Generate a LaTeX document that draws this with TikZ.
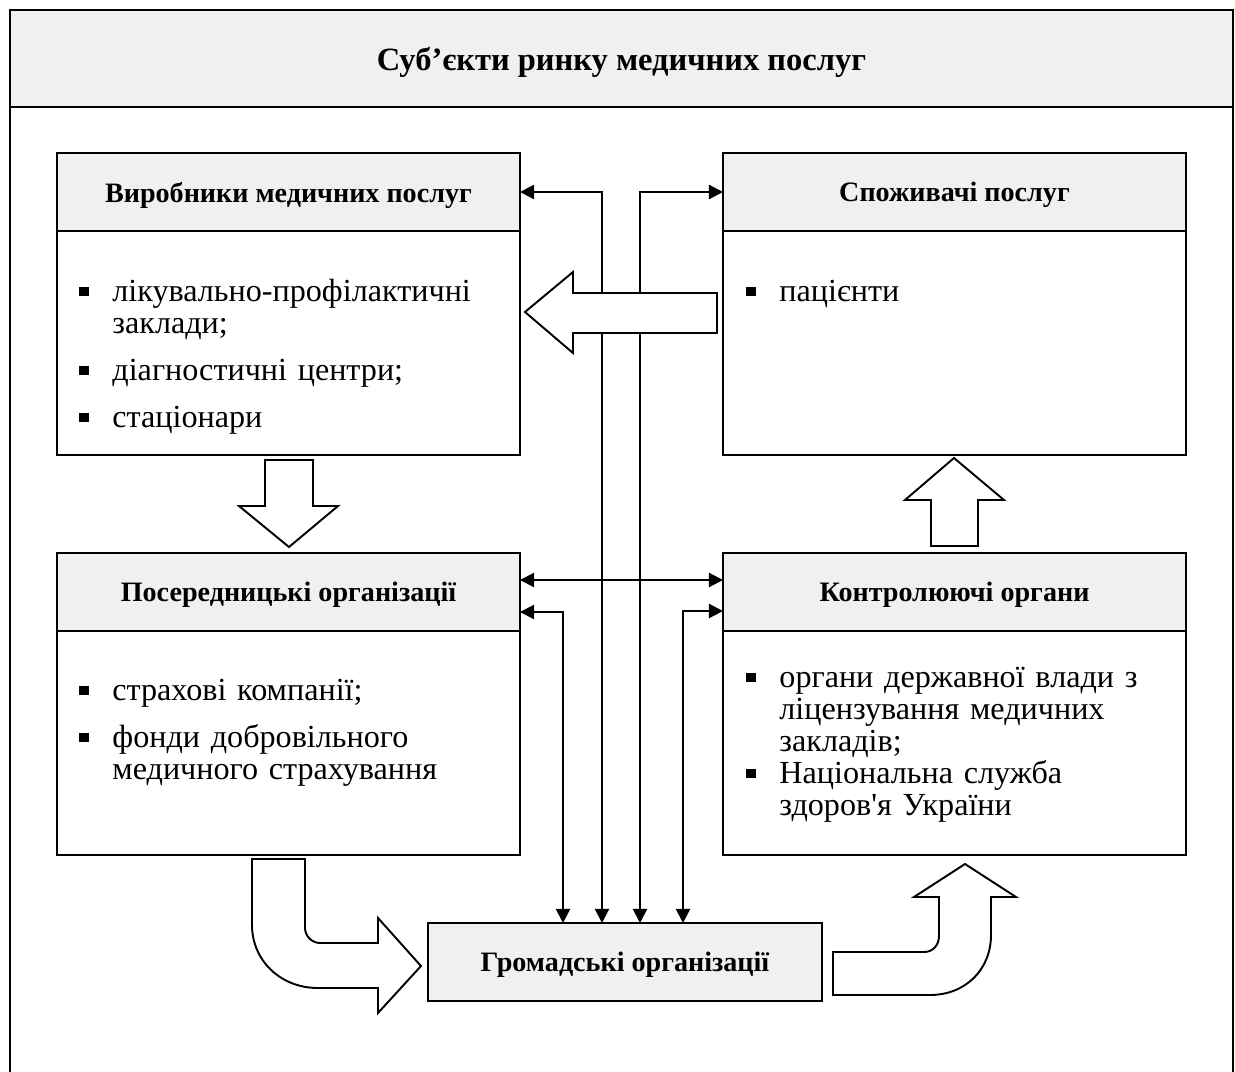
\documentclass[tikz,border=0pt]{standalone}
\usepackage{fontspec}
\setmainfont{Liberation Serif}
\usetikzlibrary{positioning,arrows.meta}

\definecolor{headgray}{RGB}{240,240,240}
\newcommand{\bitem}[1]{\noindent\hangindent=18.8pt\hangafter=1\makebox[18.8pt][l]{\rule[3.2pt]{5.4pt}{5.4pt}}#1\par}
\newcommand{\itemgap}{\vspace{8.5pt}}

\begin{document}
\begin{tikzpicture}[x=0.02cm,y=-0.02cm,
        head box/.style={draw,line width=1.1pt,fill=headgray,outer sep=0pt,inner sep=0pt,
            minimum width=9.26cm,minimum height=1.56cm,text depth=0pt,
            font=\fontsize{16}{19}\selectfont\bfseries},
        body box/.style={draw,line width=1.1pt,fill=white,outer sep=0pt,
            minimum width=9.26cm,minimum height=4.48cm},
        list text/.style={anchor=base west,inner sep=0pt,text width=8.4cm,align=left,
            font=\fontsize{18.3}{18.2}\selectfont},
        link/.style={line width=1.1pt,{Triangle[length=8pt,width=8pt]}-{Triangle[length=8pt,width=8pt]}},
        block arrow/.style={draw,line width=1.1pt,fill=white,line join=miter}]

    \useasboundingbox (0,0) rectangle (1235,1072);
    \clip (0,0) rectangle (1235,1072);

    % frame and title
    \node[head box,minimum width=24.46cm,minimum height=1.94cm,font=\fontsize{18.5}{22}\selectfont\bfseries]
        (title) at (621.5,58.5) {Суб’єкти ринку медичних послуг};
    \draw[line width=1.1pt] (title.south west) -- ++(0,1000);
    \draw[line width=1.1pt] (title.south east) -- ++(0,1000);

    % the four groups
    \node[head box] (prod) at (288.5,192) {Виробники медичних послуг};
    \node[body box,below=0pt of prod] (prodbody) {};
    \node[head box] (cons) at (954.5,192) {Споживачі послуг};
    \node[body box,below=0pt of cons] (consbody) {};
    \node[head box] (inter) at (288.5,592) {Посередницькі організації};
    \node[body box,below=0pt of inter] (interbody) {};
    \node[head box] (ctrl) at (954.5,592) {Контролюючі органи};
    \node[body box,below=0pt of ctrl] (ctrlbody) {};
    \node[head box,minimum width=7.88cm] (ngo) at (625,962) {Громадські організації};

    % lists
    \node[list text] (prodlist) at ([shift={(22,71)}]prodbody.north west)
        {\bitem{лікувально-профілактичні\newline заклади;}\itemgap
         \bitem{діагностичні центри;}\itemgap
         \bitem{стаціонари}};
    \node[list text] (conslist) at ([shift={(23,71)}]consbody.north west)
        {\bitem{пацієнти}};
    \node[list text] (interlist) at ([shift={(22,70)}]interbody.north west)
        {\bitem{страхові компанії;}\itemgap
         \bitem{фонди добровільного\newline медичного страхування}};
    \node[list text] (ctrllist) at ([shift={(23,57)}]ctrlbody.north west)
        {\bitem{органи державної влади з\newline ліцензування медичних\newline закладів;}
         \bitem{Національна служба\newline здоров\textquotesingle я України}};

    % links
    \draw[link] (prod.east) -| ([shift={(-23,0)}]ngo.north);
    \draw[link] (cons.west) -| ([shift={(15,0)}]ngo.north);
    \draw[link] ([shift={(0,-12)}]inter.east) -- ([shift={(0,-12)}]ctrl.west);
    \draw[link] ([shift={(0,20)}]inter.east) -| ([shift={(-62,0)}]ngo.north);
    \draw[link] ([shift={(0,19)}]ctrl.west) -| ([shift={(58,0)}]ngo.north);

    % block arrows
    \draw[block arrow] (717,293) -- (573,293) -- (573,272) -- (525,312)
        -- (573,353) -- (573,333) -- (717,333) -- cycle;
    \draw[block arrow] (265,460) -- (313,460) -- (313,506) -- (338,506)
        -- (289,547) -- (239,506) -- (265,506) -- cycle;
    \draw[block arrow] (931,546) -- (931,500) -- (905,500) -- (954,458)
        -- (1004,500) -- (978,500) -- (978,546) -- cycle;
    \draw[block arrow] (252,859) -- (305,859) -- (305,928)
        .. controls (305,936) and (312,943) .. (320,943) -- (378,943) -- (378,918)
        -- (421,966) -- (378,1013) -- (378,988) -- (318,988)
        .. controls (280,988) and (252,960) .. (252,925) -- cycle;
    \draw[block arrow] (833,952) -- (924,952)
        .. controls (933,952) and (939,945) .. (939,936) -- (939,897) -- (914,897)
        -- (965,864) -- (1016,897) -- (991,897) -- (991,935)
        .. controls (991,970) and (965,995) .. (930,995) -- (833,995) -- cycle;
\end{tikzpicture}
\end{document}
